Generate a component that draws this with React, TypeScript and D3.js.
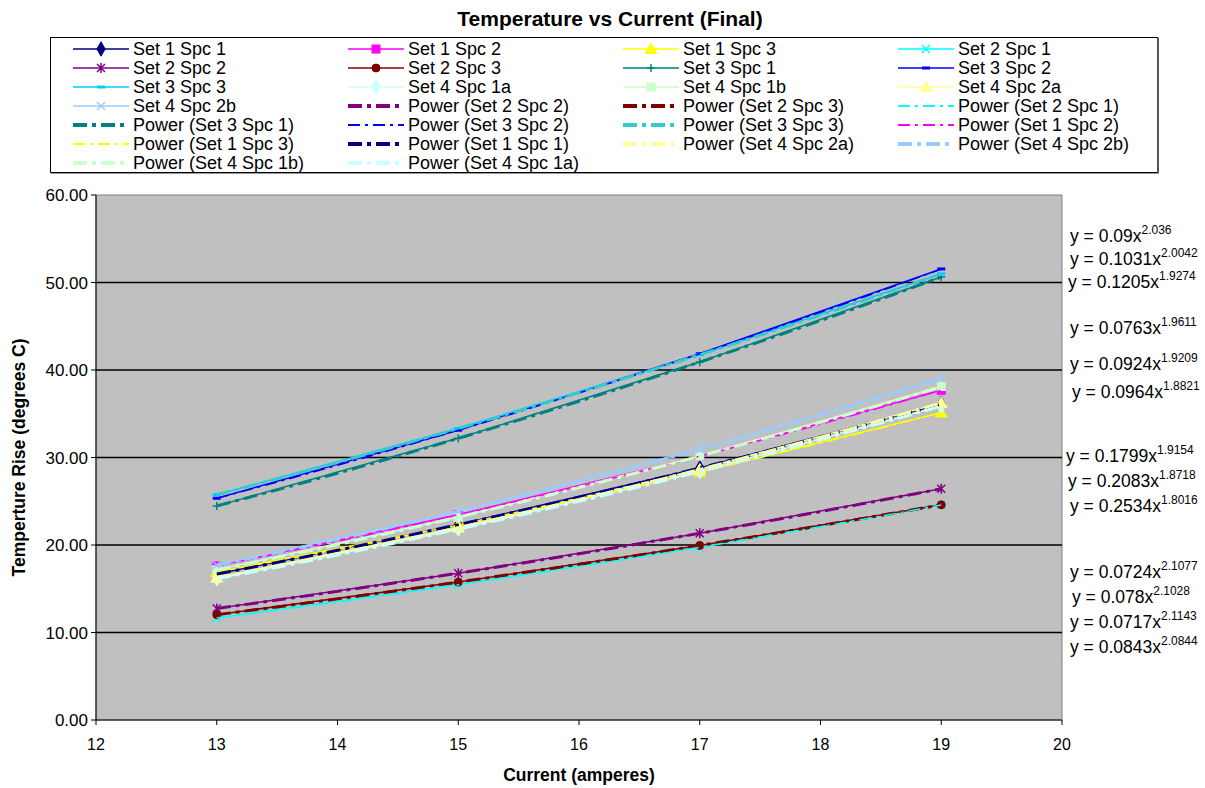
import React from 'react';
import * as d3 from 'd3';

// ---------- data ----------
const currents = [13, 15, 17, 19];

const set1Spc1 = [16.68, 22.32, 28.8, 36.12];
const set1Spc2 = [17.61, 23.46, 30.15, 37.68];
const set1Spc3 = [16.9, 22.27, 28.35, 35.13];
const set2Spc1 = [11.67, 15.45, 19.75, 24.56];
const set2Spc2 = [12.75, 16.78, 21.34, 26.43];
const set2Spc3 = [12.04, 15.76, 19.95, 24.59];
const set3Spc1 = [24.47, 32.19, 40.91, 50.62];
const set3Spc2 = [25.34, 33.12, 41.86, 51.55];
const set3Spc3 = [25.75, 33.32, 41.74, 51.0];
const set4Spc1a = [16.13, 21.81, 28.39, 35.89];
const set4Spc1b = [17.16, 23.18, 30.16, 38.11];
const set4Spc2a = [16.25, 21.98, 28.65, 36.24];
const set4Spc2b = [17.69, 23.84, 30.94, 39.02];

const seriesNames = [
  'Set 1 Spc 1', 'Set 1 Spc 2', 'Set 1 Spc 3', 'Set 2 Spc 1', 'Set 2 Spc 2', 'Set 2 Spc 3',
  'Set 3 Spc 1', 'Set 3 Spc 2', 'Set 3 Spc 3', 'Set 4 Spc 1a', 'Set 4 Spc 1b', 'Set 4 Spc 2a', 'Set 4 Spc 2b',
];
const seriesValues = [
  set1Spc1, set1Spc2, set1Spc3, set2Spc1, set2Spc2, set2Spc3,
  set3Spc1, set3Spc2, set3Spc3, set4Spc1a, set4Spc1b, set4Spc2a, set4Spc2b,
];

const trendOrder = [
  'Set 2 Spc 2', 'Set 2 Spc 3', 'Set 2 Spc 1', 'Set 3 Spc 1', 'Set 3 Spc 2', 'Set 3 Spc 3',
  'Set 1 Spc 2', 'Set 1 Spc 3', 'Set 1 Spc 1', 'Set 4 Spc 2a', 'Set 4 Spc 2b', 'Set 4 Spc 1b', 'Set 4 Spc 1a',
];

const eqCoefs = ['0.09', '0.1031', '0.1205', '0.0763', '0.0924', '0.0964', '0.1799', '0.2083', '0.2534', '0.0724', '0.078', '0.0717', '0.0843'];
const eqExps = ['2.036', '2.0042', '1.9274', '1.9611', '1.9209', '1.8821', '1.9154', '1.8718', '1.8016', '2.1077', '2.1028', '2.1143', '2.0844'];

const yTicks = [0, 10, 20, 30, 40, 50, 60];
const xTicks = [12, 13, 14, 15, 16, 17, 18, 19, 20];

const title = 'Temperature vs Current (Final)';
const xTitle = 'Current (amperes)';
const yTitle = 'Temperture Rise (degrees C)';

// ---------- styles ----------
const seriesStyle: Record<string, { color: string; marker: string }> = {
  'Set 1 Spc 1': { color: '#000080', marker: 'diamond' },
  'Set 1 Spc 2': { color: '#FF00FF', marker: 'square' },
  'Set 1 Spc 3': { color: '#FFFF00', marker: 'triangle' },
  'Set 2 Spc 1': { color: '#00FFFF', marker: 'x' },
  'Set 2 Spc 2': { color: '#800080', marker: 'star' },
  'Set 2 Spc 3': { color: '#800000', marker: 'circle' },
  'Set 3 Spc 1': { color: '#008080', marker: 'plus' },
  'Set 3 Spc 2': { color: '#0000FF', marker: 'dash' },
  'Set 3 Spc 3': { color: '#00CCFF', marker: 'dash' },
  'Set 4 Spc 1a': { color: '#CCFFFF', marker: 'diamond' },
  'Set 4 Spc 1b': { color: '#CCFFCC', marker: 'square' },
  'Set 4 Spc 2a': { color: '#FFFF99', marker: 'triangle' },
  'Set 4 Spc 2b': { color: '#99CCFF', marker: 'x' },
};
const trendStyle: Record<string, { color: string; thick: boolean }> = {
  'Set 2 Spc 2': { color: '#800080', thick: true },
  'Set 2 Spc 3': { color: '#800000', thick: true },
  'Set 2 Spc 1': { color: '#00FFFF', thick: false },
  'Set 3 Spc 1': { color: '#008080', thick: true },
  'Set 3 Spc 2': { color: '#0000FF', thick: false },
  'Set 3 Spc 3': { color: '#33CCCC', thick: true },
  'Set 1 Spc 2': { color: '#FF00FF', thick: false },
  'Set 1 Spc 3': { color: '#FFFF00', thick: false },
  'Set 1 Spc 1': { color: '#000080', thick: true },
  'Set 4 Spc 2a': { color: '#FFFF99', thick: true },
  'Set 4 Spc 2b': { color: '#99CCFF', thick: true },
  'Set 4 Spc 1b': { color: '#CCFFCC', thick: true },
  'Set 4 Spc 1a': { color: '#CCFFFF', thick: true },
};
// label baselines (px) for the trendline equations
const eqLayout = [
  { x: 1070, y: 242 }, { x: 1070, y: 265 }, { x: 1068, y: 288 },
  { x: 1070, y: 334 }, { x: 1070, y: 370 }, { x: 1072, y: 398 },
  { x: 1066, y: 462 }, { x: 1068, y: 487 }, { x: 1070, y: 512 },
  { x: 1070, y: 578 }, { x: 1072, y: 603 }, { x: 1070, y: 628 }, { x: 1070, y: 653 },
];

const FONT = '"Liberation Sans", Arial, sans-serif';
const W = 1205;
const H = 788;
const PL = 96, PR = 1062, PT = 195, PB = 720;

const xScale = d3.scaleLinear().domain([12, 20]).range([PL, PR]);
const yScale = d3.scaleLinear().domain([0, 60]).range([PB, PT]);

function Marker({ type, x, y, color }: { type: string; x: number; y: number; color: string }) {
  const s = 4;
  switch (type) {
    case 'diamond':
      return <path d={d3.symbol(d3.symbolDiamond, 60)()!} transform={`translate(${x},${y})`} fill={color} stroke={color} />;
    case 'square':
      return <rect x={x - s} y={y - s} width={2 * s} height={2 * s} fill={color} stroke={color} />;
    case 'triangle':
      return <path d={d3.symbol(d3.symbolTriangle, 60)()!} transform={`translate(${x},${y + 1})`} fill={color} stroke={color} />;
    case 'circle':
      return <circle cx={x} cy={y} r={s} fill={color} stroke={color} />;
    case 'x':
      return <path d={`M${x - s},${y - s}L${x + s},${y + s}M${x - s},${y + s}L${x + s},${y - s}`} stroke={color} strokeWidth={1.5} fill="none" />;
    case 'star':
      return <path d={`M${x - s},${y - s}L${x + s},${y + s}M${x - s},${y + s}L${x + s},${y - s}M${x},${y - s - 1}L${x},${y + s + 1}`} stroke={color} strokeWidth={1.5} fill="none" />;
    case 'plus':
      return <path d={`M${x - s},${y}L${x + s},${y}M${x},${y - s}L${x},${y + s}`} stroke={color} strokeWidth={1.5} fill="none" />;
    case 'dash':
      return <rect x={x - s} y={y - 1.5} width={2 * s} height={3} fill={color} />;
    default:
      return null;
  }
}

function powerFit(xs: number[], ys: number[]) {
  const lx = xs.map(Math.log);
  const ly = ys.map(Math.log);
  const mx = d3.mean(lx)!;
  const my = d3.mean(ly)!;
  let num = 0, den = 0;
  lx.forEach((v, i) => { num += (v - mx) * (ly[i] - my); den += (v - mx) * (v - mx); });
  const b = num / den;
  const a = Math.exp(my - b * mx);
  return { a, b };
}

const thickDash = '14 5 4 5';
const thinDash = '12 5 3 5';

export default function App() {
  const line = d3.line<[number, number]>().x(d => xScale(d[0])).y(d => yScale(d[1]));
  const xMin = d3.min(currents)!;
  const xMax = d3.max(currents)!;
  const samples = d3.range(0, 61).map(i => xMin + (xMax - xMin) * i / 60);

  const trendPaths = trendOrder.map(name => {
    const idx = seriesNames.indexOf(name);
    const { a, b } = powerFit(currents, seriesValues[idx]);
    const pts: [number, number][] = samples.map(x => [x, a * Math.pow(x, b)]);
    return { name, d: line(pts)! };
  });

  // legend
  const legendItems: { label: string; kind: 'series' | 'trend'; name: string }[] = [
    ...seriesNames.map(n => ({ label: n, kind: 'series' as const, name: n })),
    ...trendOrder.map(n => ({ label: `Power (${n})`, kind: 'trend' as const, name: n })),
  ];
  const colX = [73, 348, 623, 898];
  const rowY0 = 49;
  const rowH = 19;

  return (
    <svg width={W} height={H} style={{ position: 'absolute', left: 0, top: 0, background: '#fff' }} fontFamily={FONT}>
      <rect x={0} y={0} width={W} height={H} fill="#fff" />
      <text x={610} y={26} textAnchor="middle" fontSize={21} fontWeight="bold">{title}</text>

      {/* legend */}
      <rect x={50.5} y={37.5} width={1107} height={135} fill="#fff" stroke="#000" strokeWidth={1} />
      <line x1={1158} y1={38} x2={1158} y2={174} stroke="#555" strokeWidth={2} />
      <line x1={51} y1={173.5} x2={1159} y2={173.5} stroke="#999" strokeWidth={1} />
      {legendItems.map((it, i) => {
        const c = i % 4;
        const r = Math.floor(i / 4);
        const x0 = colX[c];
        const y = rowY0 + r * rowH;
        if (it.kind === 'series') {
          const st = seriesStyle[it.name];
          return (
            <g key={i}>
              <line x1={x0} x2={x0 + 56} y1={y} y2={y} stroke={st.color} strokeWidth={1.5} />
              <Marker type={st.marker} x={x0 + 28} y={y} color={st.color} />
              <text x={x0 + 60} y={y + 6} fontSize={18}>{it.label}</text>
            </g>
          );
        }
        const ts = trendStyle[it.name];
        return (
          <g key={i}>
            <line x1={x0} x2={x0 + 56} y1={y} y2={y} stroke={ts.color} strokeWidth={ts.thick ? 4 : 2}
              strokeDasharray={ts.thick ? thickDash : thinDash} />
            <text x={x0 + 60} y={y + 6} fontSize={18}>{it.label}</text>
          </g>
        );
      })}

      {/* plot area */}
      <rect x={PL} y={PT} width={PR - PL} height={PB - PT} fill="#C0C0C0" stroke="#808080" strokeWidth={1} />
      {yTicks.filter(t => t > 0 && t < 60).map(t => (
        <line key={t} x1={PL} x2={PR} y1={yScale(t)} y2={yScale(t)} stroke="#000" strokeWidth={1.5} />
      ))}

      {/* series */}
      {seriesNames.map((name, i) => {
        const st = seriesStyle[name];
        const pts: [number, number][] = currents.map((x, j) => [x, seriesValues[i][j]]);
        return (
          <g key={name}>
            <path d={line(pts)!} fill="none" stroke={st.color} strokeWidth={1.5} />
            {pts.map((p, j) => (
              <Marker key={j} type={st.marker} x={xScale(p[0])} y={yScale(p[1])} color={st.color} />
            ))}
          </g>
        );
      })}

      {/* trendlines */}
      {trendPaths.map(tp => {
        const ts = trendStyle[tp.name];
        return (
          <path key={tp.name} d={tp.d} fill="none" stroke={ts.color} strokeWidth={ts.thick ? 3 : 1.5}
            strokeDasharray={ts.thick ? thickDash : thinDash} />
        );
      })}

      {/* axes */}
      <line x1={PL} x2={PL} y1={PT} y2={PB} stroke="#000" strokeWidth={1} />
      <line x1={PL} x2={PR} y1={PB} y2={PB} stroke="#000" strokeWidth={1} />
      {yTicks.map(t => (
        <g key={t}>
          <line x1={PL - 5} x2={PL} y1={yScale(t)} y2={yScale(t)} stroke="#000" />
          <text x={PL - 8} y={yScale(t) + 6} textAnchor="end" fontSize={17}>{d3.format('.2f')(t)}</text>
        </g>
      ))}
      {xTicks.map(t => (
        <g key={t}>
          <line x1={xScale(t)} x2={xScale(t)} y1={PB} y2={PB + 5} stroke="#000" />
          <text x={xScale(t)} y={PB + 30} textAnchor="middle" fontSize={16}>{t}</text>
        </g>
      ))}
      <text x={(PL + PR) / 2} y={781} textAnchor="middle" fontSize={17.5} fontWeight="bold">{xTitle}</text>
      <text transform={`translate(25,${(PT + PB) / 2}) rotate(-90)`} textAnchor="middle" fontSize={17.5} fontWeight="bold">{yTitle}</text>

      {/* equations */}
      {eqCoefs.map((c, i) => (
        <text key={i} x={eqLayout[i].x} y={eqLayout[i].y} fontSize={17.5}>
          {`y = ${c}x`}
          <tspan dy={-8} fontSize={12}>{eqExps[i]}</tspan>
        </text>
      ))}
    </svg>
  );
}
